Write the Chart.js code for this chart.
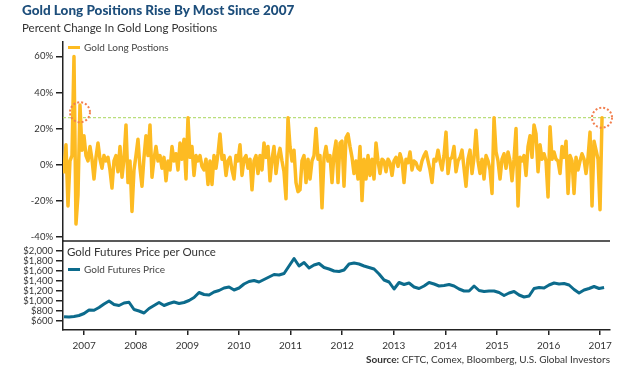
<!DOCTYPE html>
<html>
<head>
<meta charset="utf-8">
<script src="https://cdn.jsdelivr.net/npm/chart.js@4.4.1/dist/chart.umd.min.js"></script>
<style>
  body { margin: 0; width: 630px; height: 368px; overflow: hidden; position: relative; background: #fff; font-family: Lato, "Open Sans", sans-serif; color: #333; }
  .txt { position: absolute; white-space: nowrap; line-height: 1; }
  #chart { position: absolute; left: 0; top: 0; }
  #title { left: 22px; top: 4px; font-size: 13.5px; font-weight: 900; color: #1d4e7b; }
  #subtitle { left: 22px; top: 22px; font-size: 11.5px; color: #333; }
  #priceTitle { left: 67px; top: 246px; font-size: 11.5px; color: #333; }
  .legend { font-size: 10px; color: #444; }
  .legend i { display: inline-block; width: 12px; height: 3px; margin-right: 4px; vertical-align: middle; position: relative; top: -1px; }
  #legendTop { left: 68px; top: 42px; }
  #legendBottom { left: 68px; top: 264px; }
  #source { right: 20px; top: 354px; font-size: 10px; color: #333; }
</style>
</head>
<body>
<canvas id="chart" width="630" height="368"></canvas>
<div class="txt" id="title">Gold Long Positions Rise By Most Since 2007</div>
<div class="txt" id="subtitle">Percent Change In Gold Long Positions</div>
<div class="txt legend" id="legendTop"><i style="background:#fdbb22"></i>Gold Long Postions</div>
<div class="txt" id="priceTitle">Gold Futures Price per Ounce</div>
<div class="txt legend" id="legendBottom"><i style="background:#0c6b8c"></i>Gold Futures Price</div>
<div class="txt" id="source"><b>Source:</b> CFTC, Comex, Bloomberg, U.S. Global Investors</div>

<script>
// shared time axis (decimal years)
const xMin = 2006.59;
const xMax = 2017.19;
const yearTicks = [2007, 2008, 2009, 2010, 2011, 2012, 2013, 2014, 2015, 2016, 2017];

// percent change in gold long positions, read every ~2 weeks
const longStart = 2006.609;
const longStep = 0.03876;
const longChange = [
  -4, 11, -23, 2, 5, 60, -33, -17, 33, 8, 16, 5, 2, 10, 3, -8, 4, 12, 3, -2,
  5, 2, 4, -3, -13, 2, 5, -4, 10, -7, 3, 22, -10, 2, -26, -3, 5, 14, -2, -12,
  4, 16, 5, 22, -7, 3, 10, 2, 5, -2, 4, -9, 2, -3, 10, 2, 6, -3, 12, 3,
  14, -8, 26, 4, 10, -6, 5, 2, 5, -1, -3, 3, -11, 2, -11, 5, -2, 6, 17, 3,
  5, -6, 2, 4, -3, -8, 5, 2, 11, -6, 3, 5, -2, 3, -14, 2, 5, -5, 5, -3,
  12, 4, 10, -9, 3, 10, -5, 4, 9, 2, -4, -19, 26, 10, 2, 8, -10, -15, -14, 2,
  5, -10, 3, -8, 2, 5, 20, 3, 5, -24, 4, 10, 2, 5, -10, 6, 13, -10, 12, 13,
  -12, 15, 17, 10, 4, -5, 2, -8, 10, -20, 3, -8, 5, -6, 3, -8, 12, 2, -5, 3,
  2, -4, 3, 1, -6, 2, 4, -1, 6, 2, -10, 3, 1, 7, -3, 2, 1, -2, -3, 2,
  5, 7, 2, -3, -10, 3, 2, 8, 2, -3, 5, 18, -5, 3, 4, 10, -4, 2, 4, 8,
  -2, -12, 3, 8, -5, 4, 19, 2, -5, 3, -8, 5, 2, -3, -16, 26, 7, 2, -8, 3,
  6, -2, 7, 2, -9, 3, 20, -23, 4, 2, 5, -6, 10, 16, 4, 22, 17, -4, 11, 3,
  6, 2, -18, 21, 3, 7, 3, 2, -5, 10, 4, 13, -16, 5, 2, -16, 4, -3, 2, 6,
  3, -5, 4, 18, -23, 13, 8, 3, -25, 26
];
const pctTicks = [-40, -20, 0, 20, 40, 60];
const refLevel = 26;
const circled = [{ index: 8, level: 29 }, { index: 269, level: 26 }];

// gold futures price, USD per ounce, read every ~5 weeks
const priceStart = 2006.61;
const priceStep = 0.0969;
const goldPrice = [
  686, 680, 690, 710, 750, 820, 815, 870, 940, 1000, 930, 910, 960, 975, 830, 800, 760, 850, 910, 970,
  910, 950, 980, 950, 970, 1010, 1070, 1170, 1130, 1120, 1180, 1210, 1260, 1280, 1220, 1260, 1340, 1390, 1410, 1380,
  1430, 1480, 1530, 1520, 1550, 1700, 1850, 1700, 1770, 1660, 1720, 1750, 1670, 1640, 1600, 1590, 1620, 1740, 1760, 1740,
  1700, 1670, 1640, 1540, 1420, 1380, 1240, 1370, 1330, 1360, 1280, 1250, 1300, 1370, 1340, 1300, 1310, 1330, 1300, 1240,
  1200, 1200, 1300, 1210, 1190, 1200, 1200, 1170, 1110, 1160, 1190, 1120, 1080, 1100, 1250, 1270, 1260, 1320, 1360, 1340,
  1350, 1320, 1230, 1160, 1220, 1250, 1290, 1250, 1270
];
const priceTicks = [600, 800, 1000, 1200, 1400, 1600, 1800, 2000];

const tickFont = { family: 'Lato', size: 9.5 };
const axisColor = '#222';

const longPoints = longChange.map((v, i) => ({ x: longStart + i * longStep, y: v }));
const pricePoints = goldPrice.map((v, i) => ({ x: priceStart + i * priceStep, y: v }));

// fixed axis boxes so both panels line up with the picture
function fixYAxis(s) {
  s.width = 63;
  s.paddingTop = 0;
  s.paddingBottom = 0;
}

function panelAxis(min, max, tickValues, label, weight, showLabels) {
  return {
    type: 'linear',
    position: 'left',
    stack: 'panels',
    stackWeight: weight,
    min: min,
    max: max,
    afterBuildTicks: s => { s.ticks = tickValues.map(v => ({ value: v })); },
    afterFit: fixYAxis,
    ticks: { display: showLabels, callback: label, color: '#333', font: tickFont, padding: 3, autoSkip: false },
    grid: { drawOnChartArea: false, drawTicks: true, tickLength: 7, color: axisColor, lineWidth: 1.5 },
    border: { display: true, color: axisColor, width: 1.5 }
  };
}

// percent labels are written last so the lowest one is not lost
const pctLabels = {
  id: 'pctLabels',
  afterDraw(chart) {
    const { ctx, scales: { yLong } } = chart;
    ctx.save();
    ctx.fillStyle = '#333';
    ctx.font = '9.5px Lato';
    ctx.textAlign = 'right';
    ctx.textBaseline = 'middle';
    pctTicks.forEach(v => ctx.fillText(v + '%', yLong.right - 10, yLong.getPixelForValue(v)));
    ctx.restore();
  }
};

const dottedCircles = {
  id: 'dottedCircles',
  afterDatasetsDraw(chart) {
    const { ctx, scales: { x, yLong } } = chart;
    ctx.save();
    ctx.strokeStyle = '#f27f4e';
    ctx.lineWidth = 2;
    ctx.setLineDash([2, 2]);
    circled.forEach(c => {
      ctx.beginPath();
      ctx.arc(x.getPixelForValue(longPoints[c.index].x), yLong.getPixelForValue(c.level), 10, 0, Math.PI * 2);
      ctx.stroke();
    });
    ctx.restore();
  }
};

// line closing the top of the price panel
const panelBorder = {
  id: 'panelBorder',
  afterDraw(chart) {
    const { ctx, chartArea, scales: { yPrice } } = chart;
    ctx.save();
    ctx.strokeStyle = axisColor;
    ctx.lineWidth = 1.5;
    ctx.beginPath();
    ctx.moveTo(chartArea.left, yPrice.top);
    ctx.lineTo(chartArea.right, yPrice.top);
    ctx.stroke();
    ctx.restore();
  }
};

new Chart(document.getElementById('chart'), {
  type: 'line',
  data: {
    datasets: [
      {
        label: 'Gold Long Postions',
        data: longPoints,
        yAxisID: 'yLong',
        borderColor: '#fdbb22',
        borderWidth: 3.5,
        borderJoinStyle: 'round',
        borderCapStyle: 'round',
        pointRadius: 0,
        tension: 0
      },
      {
        label: 'ref',
        data: [{ x: xMin, y: refLevel }, { x: xMax, y: refLevel }],
        yAxisID: 'yLong',
        borderColor: '#a9d65a',
        borderWidth: 1,
        borderDash: [3, 2],
        pointRadius: 0
      },
      {
        label: 'Gold Futures Price',
        data: pricePoints,
        yAxisID: 'yPrice',
        borderColor: '#0c6b8c',
        borderWidth: 3,
        borderJoinStyle: 'round',
        pointRadius: 0,
        tension: 0
      }
    ]
  },
  options: {
    responsive: false,
    animation: false,
    layout: { autoPadding: false, padding: { top: 42, right: 20, bottom: 0, left: 0 } },
    plugins: { legend: { display: false }, tooltip: { enabled: false } },
    scales: {
      x: {
        type: 'linear',
        min: xMin,
        max: xMax,
        afterBuildTicks: s => { s.ticks = yearTicks.map(v => ({ value: v })); },
        afterFit: s => { s.height = 38; s.paddingLeft = 0; s.paddingRight = 0; },
        ticks: { callback: v => String(v), color: '#333', font: { family: 'Lato', size: 10 }, padding: 5, maxRotation: 0, autoSkip: false },
        grid: { drawOnChartArea: false, drawTicks: true, tickLength: 5, color: axisColor, lineWidth: 1.5 },
        border: { display: true, color: axisColor, width: 1.5 }
      },
      // bottom panel first: the later axis of a stack is placed on top
      yPrice: panelAxis(420, 2200, priceTicks, v => '$' + v.toLocaleString('en-US'), 89, true),
      yLong: panelAxis(-42.4, 68, pctTicks, v => v + '%', 199, false)
    }
  },
  plugins: [dottedCircles, panelBorder, pctLabels]
});
</script>
</body>
</html>
